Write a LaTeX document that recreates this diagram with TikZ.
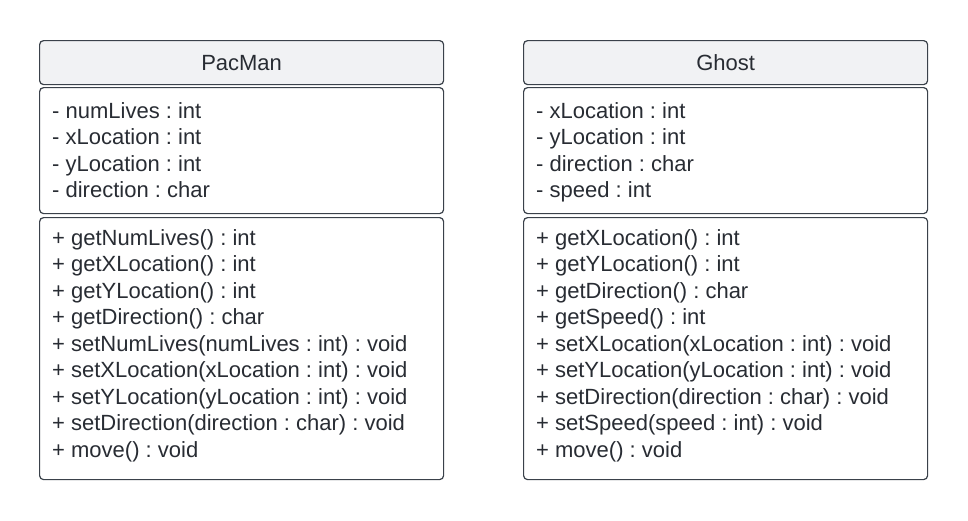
\documentclass[tikz,border=0pt]{standalone}
\usepackage{fontspec}
\setmainfont{Liberation Sans}
\usepackage{xcolor}
\usepackage{tikz}
\usetikzlibrary{positioning}
\frenchspacing

\definecolor{lineGray}{HTML}{3A414A}
\definecolor{headFill}{HTML}{F1F2F4}
\definecolor{textGray}{HTML}{282C33}

\begin{document}
\begin{tikzpicture}[x=1pt, y=-1pt,
    header/.style={draw=lineGray, line width=1.2pt, rounded corners=4pt, fill=headFill, minimum width=404pt, minimum height=44pt, inner sep=0pt, anchor=north west, text=textGray, font=\fontsize{22}{26.5}\selectfont},
    compart/.style={draw=lineGray, line width=1.2pt, rounded corners=4pt, fill=white, minimum width=404pt, inner sep=0pt, anchor=north west},
    members/.style={align=left, anchor=north west, inner sep=0pt, text=textGray, font=\fontsize{22}{26.5}\selectfont\frenchspacing}]
    \useasboundingbox (0,0) rectangle (968,520);

    % PacMan class
    \node [header] (pacHead) at (39,40) {PacMan};
    \node [compart, minimum height=126pt] (pacAttr) at (39,87) {};
    \node [compart, minimum height=262pt] (pacOps) at (39,217) {};
    \node [members] (pacAttrText) at (52,102) {- numLives : int\\- xLocation : int\\- yLocation : int\\- direction : char};
    \node [members] (pacOpsText) at (52,229) {+ getNumLives() : int\\+ getXLocation() : int\\+ getYLocation() : int\\+ getDirection() : char\\+ setNumLives(numLives : int) : void\\+ setXLocation(xLocation : int) : void\\+ setYLocation(yLocation : int) : void\\+ setDirection(direction : char) : void\\+ move() : void};

    % Ghost class
    \node [header] (ghostHead) at (523,40) {Ghost};
    \node [compart, minimum height=126pt] (ghostAttr) at (523,87) {};
    \node [compart, minimum height=262pt] (ghostOps) at (523,217) {};
    \node [members] (ghostAttrText) at (536,102) {- xLocation : int\\- yLocation : int\\- direction : char\\- speed : int};
    \node [members] (ghostOpsText) at (536,229) {+ getXLocation() : int\\+ getYLocation() : int\\+ getDirection() : char\\+ getSpeed() : int\\+ setXLocation(xLocation : int) : void\\+ setYLocation(yLocation : int) : void\\+ setDirection(direction : char) : void\\+ setSpeed(speed : int) : void\\+ move() : void};
\end{tikzpicture}
\end{document}
